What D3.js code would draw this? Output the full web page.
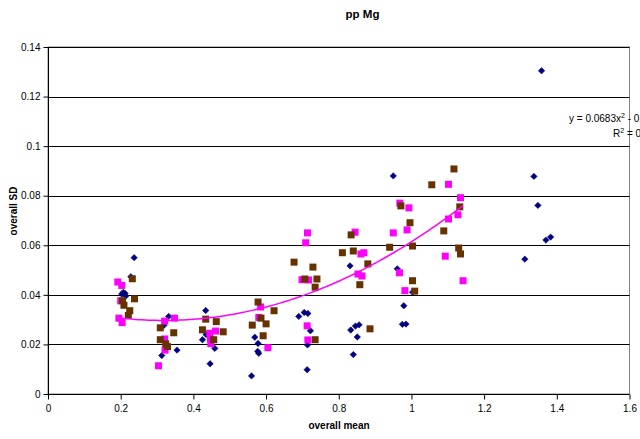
<!DOCTYPE html>
<html><head><meta charset="utf-8">
<script src="https://cdn.jsdelivr.net/npm/d3@7"></script>
<style>body{margin:0;background:#fff}svg{display:block;font-family:"Liberation Sans",Arial,sans-serif}</style>
</head><body><svg id="c" width="640" height="439"></svg>
<script>
const chartTitle = "pp Mg";
const xTitle = "overall mean";
const yTitle = "overall SD";
const xTicks = [0, 0.2, 0.4, 0.6, 0.8, 1, 1.2, 1.4, 1.6];
const yTicks = [0, 0.02, 0.04, 0.06, 0.08, 0.1, 0.12, 0.14];

const navyX = [0.237,0.228,0.207,0.212,0.203,0.214,0.332,0.434,0.425,0.459,0.355,0.313,0.446,0.560,0.569,0.578,0.577,0.580,0.319,0.435,
  0.831,0.961,0.690,0.705,0.715,0.722,0.833,0.846,0.856,0.851,0.979,0.975,0.985,0.714,0.840,0.713,1.003,
  0.950,1.358,1.337,1.348,1.370,1.383,1.312];
const navyY = [0.0550,0.0473,0.0410,0.0406,0.0403,0.0395,0.0313,0.0337,0.0219,0.0184,0.0177,0.0155,0.0122,0.0073,0.0229,0.0204,0.0172,0.0164,0.0277,0.0240,
  0.0517,0.0505,0.0313,0.0329,0.0325,0.0255,0.0258,0.0274,0.0279,0.0230,0.0356,0.0281,0.0282,0.0198,0.0159,0.0098,0.0411,
  0.0880,0.1304,0.0878,0.0761,0.0621,0.0633,0.0544];

const brownX = [0.232,0.238,0.205,0.209,0.225,0.221,0.309,0.346,0.309,0.324,0.329,0.434,0.463,0.425,0.482,0.456,0.562,0.578,
  0.834,0.996,0.810,0.840,0.940,1.003,0.677,0.729,0.880,0.707,0.740,0.735,0.858,1.003,1.009,0.622,0.586,0.600,0.592,0.886,0.735,
  1.117,1.056,1.133,0.971,1.089,1.130,1.135];
const brownY = [0.0465,0.0384,0.0376,0.0358,0.0336,0.0317,0.0267,0.0247,0.0219,0.0202,0.0191,0.0302,0.0292,0.0259,0.0251,0.0219,0.0278,0.0371,
  0.0642,0.0691,0.0570,0.0577,0.0592,0.0597,0.0532,0.0512,0.0525,0.0464,0.0464,0.0431,0.0441,0.0457,0.0415,0.0336,0.0306,0.0283,0.0235,0.0263,0.0219,
  0.0908,0.0844,0.0755,0.0759,0.0658,0.0589,0.0565];

const magentaX = [0.192,0.203,0.200,0.195,0.204,0.321,0.348,0.321,0.322,0.304,0.445,0.461,0.447,0.448,0.580,
  0.714,0.709,0.845,0.861,0.869,0.950,0.988,0.699,0.717,0.853,0.864,0.967,0.982,0.585,0.713,0.715,0.605,
  1.102,1.135,0.968,0.993,1.102,1.128,1.093,1.142];
const magentaY = [0.0452,0.0438,0.0376,0.0306,0.0288,0.0294,0.0306,0.0222,0.0177,0.0114,0.0245,0.0254,0.0222,0.0203,0.0309,
  0.0650,0.0610,0.0653,0.0565,0.0570,0.0650,0.0662,0.0461,0.0460,0.0484,0.0476,0.0489,0.0417,0.0351,0.0275,0.0218,0.0187,
  0.0846,0.0792,0.0770,0.0751,0.0706,0.0723,0.0556,0.0457];

// polynomial trendline coefficients (a, b, c) for y = a x^2 + b x + c
const trendCoef = [0.0683, -0.0435, 0.0366];
const trendLabel1 = ["y = 0.0683x", "2", " - 0.0435x + 0.0366"];
const trendLabel2 = ["R", "2", " = 0.6517"];

const svg = d3.select("#c");
const L = 48, R = 629.5, T = 47, B = 394;
const x = d3.scaleLinear().domain([0, 1.6]).range([L, R]);
const y = d3.scaleLinear().domain([0, 0.14]).range([B, T]);

// plot border (gray right edge)
svg.append("rect").attr("x", L).attr("y", T).attr("width", R - L).attr("height", B - T)
  .attr("fill", "#fff").attr("stroke", "#808080").attr("stroke-width", 1);

// gridlines
svg.append("g").selectAll("line").data(yTicks.filter(d => d > 0)).join("line")
  .attr("x1", L).attr("x2", R)
  .attr("y1", d => Math.round(y(d)) + 0.5).attr("y2", d => Math.round(y(d)) + 0.5)
  .attr("stroke", "#000").attr("stroke-width", 1);

// axes
const yAxis = d3.axisLeft(y).tickValues(yTicks).tickSize(5).tickPadding(3).tickFormat(d => d3.format("")(+d.toFixed(2)));
const gy = svg.append("g").attr("transform", `translate(${L + 0.5},0)`).call(yAxis);
const xAxis = d3.axisBottom(x).tickValues(xTicks).tickSize(5).tickPadding(5).tickFormat(d => d3.format("")(+d.toFixed(1)));
const gx = svg.append("g").attr("transform", `translate(0,${B + 0.5})`).call(xAxis);
[gx, gy].forEach(g => {
  g.select(".domain").attr("stroke", "#000").attr("d", null);
  g.selectAll(".tick line").attr("stroke", "#000");
  g.selectAll("text").attr("font-size", 10).attr("fill", "#000").attr("font-family", "Liberation Sans, Arial, sans-serif");
});
gx.select(".domain").remove();
gy.select(".domain").remove();
svg.append("line").attr("x1", L + 0.5).attr("x2", L + 0.5).attr("y1", T).attr("y2", B + 1).attr("stroke", "#000");
svg.append("line").attr("x1", L).attr("x2", R).attr("y1", B + 0.5).attr("y2", B + 0.5).attr("stroke", "#000");
gy.selectAll(".tick line").attr("x1", -5).attr("x2", 0);

// markers
const navy = navyX.map((v, i) => [v, navyY[i]]);
const brown = brownX.map((v, i) => [v, brownY[i]]);
const magenta = magentaX.map((v, i) => [v, magentaY[i]]);
const diamond = d3.symbol().type(d3.symbolDiamond2).size(26);
svg.append("g").selectAll("path").data(navy).join("path")
  .attr("d", diamond).attr("transform", d => `translate(${x(d[0])},${y(d[1])})`)
  .attr("fill", "#000080").attr("stroke", "#000080").attr("stroke-width", 0.6);
svg.append("g").selectAll("rect").data(magenta).join("rect")
  .attr("x", d => x(d[0]) - 3.5).attr("y", d => y(d[1]) - 3.5).attr("width", 7).attr("height", 7)
  .attr("fill", "#ff00ff");
svg.append("g").selectAll("rect").data(brown).join("rect")
  .attr("x", d => x(d[0]) - 3.5).attr("y", d => y(d[1]) - 3.5).attr("width", 7).attr("height", 7)
  .attr("fill", "#663300");

// trendline
const xmin = d3.min(magentaX), xmax = d3.max(magentaX);
const f = t => trendCoef[0] * t * t + trendCoef[1] * t + trendCoef[2];
const pts = d3.range(0, 101).map(i => xmin + (xmax - xmin) * i / 100);
svg.append("path").datum(pts)
  .attr("d", d3.line().x(d => x(d)).y(d => y(f(d))))
  .attr("fill", "none").attr("stroke", "#ff00ff").attr("stroke-width", 1.5);

// trend equation text
const t1 = svg.append("text").attr("x", 569).attr("y", 122).attr("font-size", 10).attr("fill", "#000");
t1.append("tspan").text(trendLabel1[0]);
t1.append("tspan").attr("dy", -4).attr("font-size", 7).text(trendLabel1[1]);
t1.append("tspan").attr("dy", 4).text(trendLabel1[2]);
const t2 = svg.append("text").attr("x", 613).attr("y", 137).attr("font-size", 10).attr("fill", "#000");
t2.append("tspan").text(trendLabel2[0]);
t2.append("tspan").attr("dy", -4).attr("font-size", 7).text(trendLabel2[1]);
t2.append("tspan").attr("dy", 4).text(trendLabel2[2]);

// titles
svg.append("text").attr("x", 362.5).attr("y", 18).attr("text-anchor", "middle")
  .attr("font-size", 11.5).attr("font-weight", "bold").text(chartTitle);
svg.append("text").attr("x", 339).attr("y", 429).attr("text-anchor", "middle")
  .attr("font-size", 10).attr("font-weight", "bold").text(xTitle);
svg.append("text").attr("transform", "translate(17,211) rotate(-90)").attr("text-anchor", "middle")
  .attr("font-size", 10).attr("font-weight", "bold").text(yTitle);
</script></body></html>
